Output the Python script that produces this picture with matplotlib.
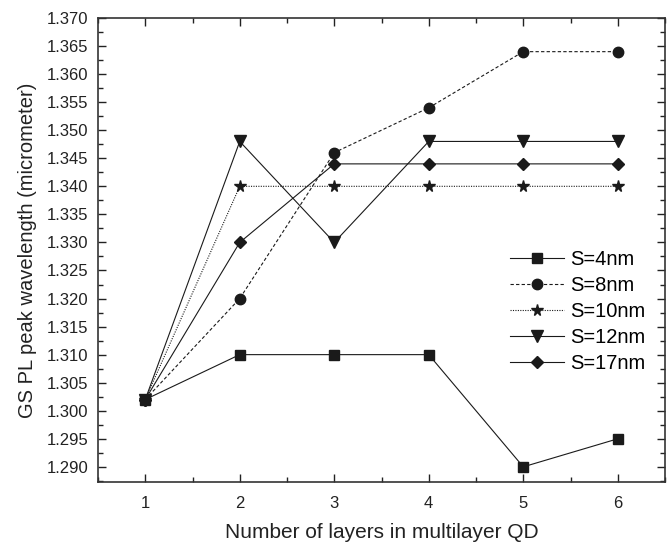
import matplotlib
matplotlib.use("Agg")
import matplotlib.pyplot as plt
from matplotlib.ticker import MultipleLocator, FormatStrFormatter

plt.rcParams['font.family'] = ['Liberation Sans', 'DejaVu Sans']

layers = [1, 2, 3, 4, 5, 6]
s4 = [1.302, 1.310, 1.310, 1.310, 1.290, 1.295]
s8 = [1.302, 1.320, 1.346, 1.354, 1.364, 1.364]
s10 = [1.302, 1.340, 1.340, 1.340, 1.340, 1.340]
s12 = [1.302, 1.348, 1.330, 1.348, 1.348, 1.348]
s17 = [1.302, 1.330, 1.344, 1.344, 1.344, 1.344]
labels = ["S=4nm", "S=8nm", "S=10nm", "S=12nm", "S=17nm"]

fig = plt.figure(figsize=(6.68, 5.43), dpi=100)
ax = fig.add_axes([98/668, 1-482/543, 567/668, 464/543])

c = '#1a1a1a'
lw = 0.8
ax.plot(layers, s4, color=c, lw=lw, ls='-', marker='s', ms=6.5, label=labels[0])
ax.plot(layers, s8, color=c, lw=lw, ls=(0, (3, 2)), marker='o', ms=7.5, label=labels[1])
ax.plot(layers, s10, color=c, lw=lw, ls=(0, (1, 1.2)), marker='*', ms=8.5, label=labels[2])
ax.plot(layers, s12, color=c, lw=lw, ls='-', marker='v', ms=8.5, label=labels[3])
ax.plot(layers, s17, color=c, lw=lw, ls='-', marker='D', ms=6.5, label=labels[4])

ax.set_xlim(0.5, 6.5)
ax.set_ylim(1.2873, 1.370)
ax.xaxis.set_major_locator(MultipleLocator(1))
ax.xaxis.set_minor_locator(MultipleLocator(0.5))
ax.yaxis.set_major_locator(MultipleLocator(0.005))
ax.yaxis.set_minor_locator(MultipleLocator(0.0025))
ax.yaxis.set_major_formatter(FormatStrFormatter('%.3f'))
ax.tick_params(which='both', direction='in', top=True, right=True, labelsize=12, colors='#222222')
ax.tick_params(which='major', length=6, width=1)
ax.tick_params(which='minor', length=3.5, width=1)
ax.tick_params(axis='x', pad=10)
ax.tick_params(axis='y', pad=7)
for sp in ax.spines.values():
    sp.set_linewidth(1.2)
    sp.set_color('#333333')

ax.set_xlabel("Number of layers in multilayer QD", fontsize=15, labelpad=9, color='#222222')
ax.set_ylabel("GS PL peak wavelength (micrometer)", fontsize=14.5, labelpad=7, color='#222222')

ax.legend(loc='upper left', bbox_to_anchor=(0.712, 0.517), frameon=False,
          fontsize=14.5, handlelength=2.7, handletextpad=0.3, labelspacing=0.35,
          borderaxespad=0)

fig.savefig("out.png", dpi=100)
